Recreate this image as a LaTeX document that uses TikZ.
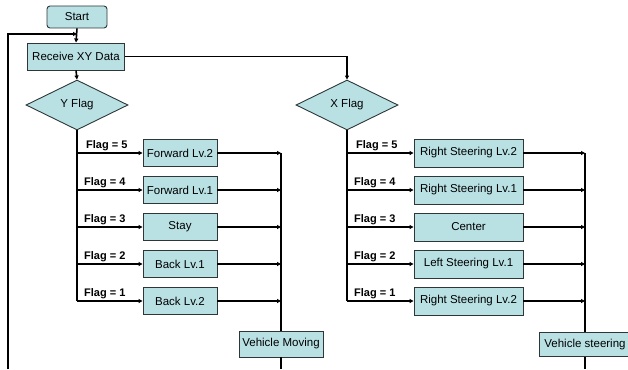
\documentclass[tikz,border=0pt]{standalone}
\usepackage{fontspec}
\setmainfont{Liberation Sans}
\usetikzlibrary{shapes.geometric,arrows.meta}
\definecolor{boxfill}{RGB}{185,225,228}
\definecolor{boxline}{RGB}{45,55,55}
\tikzset{
  procbox/.style={draw=boxline, fill=boxfill, line width=0.9pt, inner sep=0pt,
    font=\fontsize{11.5}{13}\selectfont},
  decision/.style={diamond, aspect=2, draw=boxline, fill=boxfill, line width=0.9pt,
    inner sep=0pt, font=\fontsize{11.5}{13}\selectfont},
  flow/.style={line width=1.6pt, black},
  flowarrow/.style={flow, -{Triangle[length=4pt,width=4pt]}},
  flaglabel/.style={anchor=base west, inner sep=0pt, font=\bfseries\fontsize{11}{12}\selectfont},
}
\begin{document}
\begin{tikzpicture}[x=1pt,y=-1pt]
\useasboundingbox (0,0) rectangle (628,369);

% top of the flow
\node[procbox, rounded corners=3pt, minimum width=60pt, minimum height=22pt] (start) at (77,17) {Start};
\node[procbox, minimum width=97pt, minimum height=27pt] (recv) at (76,56.5) {Receive XY Data};
\node[decision, minimum width=102pt, minimum height=50pt] (yflag) at (77,105) {Y Flag};
\node[decision, minimum width=102pt, minimum height=50pt] (xflag) at (347,105) {X Flag};

\coordinate (merge) at (77,34);
\coordinate (loopbot) at (8,369);
\coordinate (xturn) at (347,56.5);

\draw[flowarrow] (start.south) -- (recv.north);
\draw[flowarrow] (loopbot) |- (merge);
\draw[flowarrow] (recv.south) -- (yflag.north);
\draw[flowarrow] (recv.east) -- (xturn) -- (xflag.north);

% Y branch
\foreach \name/\txt/\yy in {yf/Forward Lv.2/153, yfo/Forward Lv.1/190, ys/Stay/227, yb/Back Lv.1/264, ybb/Back Lv.2/301}{
  \node[procbox, minimum width=74pt, minimum height=27pt] (\name) at (180,\yy) {\txt};
  \coordinate (\name-in) at (77,\yy);
  \coordinate (\name-out) at (281,\yy);
  \draw[flowarrow] (\name-in) -- (\name.west);
  \draw[flowarrow] (\name.east) -- (\name-out);
}
\node[procbox, minimum width=84pt, minimum height=26pt] (vmove) at (281,344) {Vehicle Moving};
\coordinate (vmove-end) at (281,369);
\draw[flow] (yflag.south) -- (ybb-in);
\draw[flow] (yf-out) -- (vmove.north);
\draw[flow] (vmove.south) -- (vmove-end);

\node[flaglabel] (yl5) at (86,148.5) {Flag = 5};
\node[flaglabel] (yl4) at (84,185.5) {Flag = 4};
\node[flaglabel] (yl3) at (84,222.5) {Flag = 3};
\node[flaglabel] (yl2) at (84,259.5) {Flag = 2};
\node[flaglabel] (yl1) at (84,296.5) {Flag = 1};

% X branch
\foreach \name/\txt/\yy in {xr/Right Steering Lv.2/153, xro/Right Steering Lv.1/190, xc/Center/227, xl/Left Steering Lv.1/264, xrr/Right Steering Lv.2/301}{
  \node[procbox, minimum width=109pt, minimum height=28pt] (\name) at (468.5,\yy) {\txt};
  \coordinate (\name-in) at (347,\yy);
  \coordinate (\name-out) at (585,\yy);
  \draw[flowarrow] (\name-in) -- (\name.west);
  \draw[flowarrow] (\name.east) -- (\name-out);
}
\node[procbox, minimum width=92pt, minimum height=24pt] (vsteer) at (585,344.5) {Vehicle steering};
\coordinate (vsteer-end) at (585,369);
\draw[flow] (xflag.south) -- (xrr-in);
\draw[flow] (xr-out) -- (vsteer.north);
\draw[flow] (vsteer.south) -- (vsteer-end);

\node[flaglabel] (xl5) at (356,148.5) {Flag = 5};
\node[flaglabel] (xl4) at (354,185.5) {Flag = 4};
\node[flaglabel] (xl3) at (354,222.5) {Flag = 3};
\node[flaglabel] (xl2) at (354,259.5) {Flag = 2};
\node[flaglabel] (xl1) at (354,296.5) {Flag = 1};
\end{tikzpicture}
\end{document}
